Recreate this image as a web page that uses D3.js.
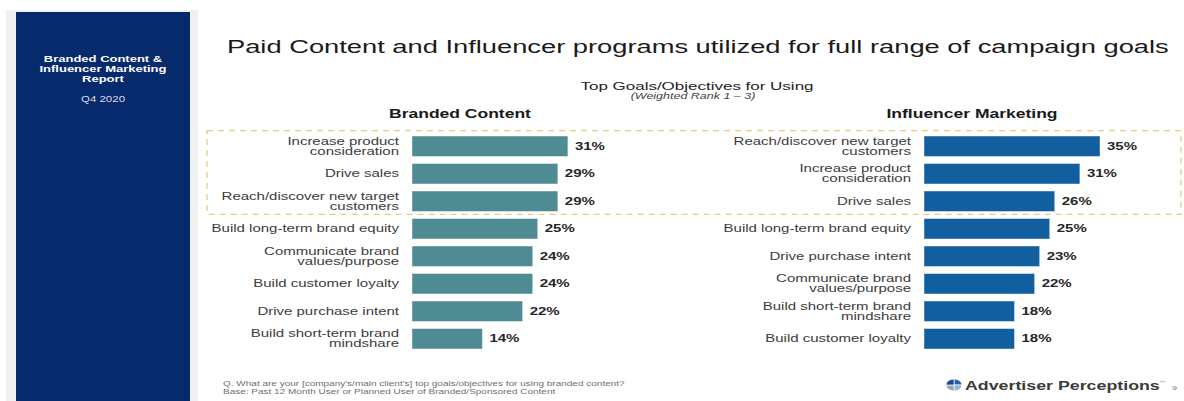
<!DOCTYPE html>
<html>
<head>
<meta charset="utf-8">
<script src="https://cdn.jsdelivr.net/npm/d3@7"></script>
<style>
  html, body { margin: 0; padding: 0; background: #ffffff; }
  svg { display: block; }
  text { font-family: "Liberation Sans", Arial, sans-serif; }
</style>
</head>
<body>
<svg id="chart" width="1184" height="401"></svg>
<script>
// Branded Content goals (weighted rank 1-3), share of respondents in %
const bcCategories = [
  "Increase product\nconsideration",
  "Drive sales",
  "Reach/discover new target\ncustomers",
  "Build long-term brand equity",
  "Communicate brand\nvalues/purpose",
  "Build customer loyalty",
  "Drive purchase intent",
  "Build short-term brand\nmindshare"
];
const bcValues = [31, 29, 29, 25, 24, 24, 22, 14];

// Influencer Marketing goals
const imCategories = [
  "Reach/discover new target\ncustomers",
  "Increase product\nconsideration",
  "Drive sales",
  "Build long-term brand equity",
  "Drive purchase intent",
  "Communicate brand\nvalues/purpose",
  "Build short-term brand\nmindshare",
  "Build customer loyalty"
];
const imValues = [35, 31, 26, 25, 23, 22, 18, 18];

const panelTitles = ["Branded Content", "Influencer Marketing"];

const svg = d3.select("#chart");
const SY = 0.68;   // slide text is rendered vertically condensed

function txt(parent, x, y, str, size, opts = {}) {
  const t = parent.append("text")
    .attr("transform", `translate(${x},${y}) scale(1,${opts.sy || SY})`)
    .attr("font-size", size)
    .attr("text-anchor", opts.anchor || "start")
    .attr("font-weight", opts.weight || "normal")
    .attr("font-style", opts.style || "normal")
    .attr("fill", opts.fill || "#222")
    .text(str);
  return t;
}

// ---- sidebar ----
svg.append("rect").attr("x", 6).attr("y", 10).attr("width", 192).attr("height", 391).attr("fill", "#f0f0ee");
svg.append("rect").attr("x", 16).attr("y", 12).attr("width", 174).attr("height", 389).attr("fill", "#062a6c");
const side = svg.append("g");
["Branded Content &", "Influencer Marketing", "Report"].forEach((s, i) => {
  txt(side, 103, 62 + i * 10, s, 13, { anchor: "middle", weight: "bold", fill: "#ffffff", sy: 0.74 });
});
txt(side, 103, 102, "Q4 2020", 11.5, { anchor: "middle", fill: "#d8dde8", sy: 0.74 });

// ---- headings ----
txt(svg, 227, 53, "Paid Content and Influencer programs utilized for full range of campaign goals", 27.3, { fill: "#1a1a1a" });
txt(svg, 697, 90, "Top Goals/Objectives for Using", 17, { anchor: "middle", fill: "#222" });
txt(svg, 693, 99, "(Weighted Rank 1 \u2013 3)", 12.5, { anchor: "middle", style: "italic", fill: "#444" });

// ---- highlight of the top three goals ----
svg.append("rect")
  .attr("x", 207).attr("y", 130.7).attr("width", 974).attr("height", 83.6)
  .attr("fill", "none").attr("stroke", "#e3d07c").attr("stroke-width", 1.3)
  .attr("stroke-dasharray", "6,5");

// ---- scales shared by both panels ----
const x = d3.scaleLinear().domain([0, 35]).range([0, 176]);

function panel(categories, values, x0, color, title, titleX) {
  const y = d3.scaleBand()
    .domain(categories)
    .range([132.5, 352.5])
    .paddingInner(0.255)
    .paddingOuter(0.1275);

  const g = svg.append("g");
  txt(g, titleX, 118, title, 17.5, { anchor: "middle", weight: "bold", fill: "#1a1a1a" });

  g.selectAll("rect.bar")
    .data(categories)
    .join("rect")
    .attr("class", "bar")
    .attr("x", x0)
    .attr("y", d => y(d))
    .attr("width", (d, i) => x(values[i]))
    .attr("height", y.bandwidth())
    .attr("fill", color)
    .attr("stroke", "rgba(255,255,255,0.45)")
    .attr("stroke-width", 1);

  categories.forEach((c, i) => {
    const cy = y(c) + y.bandwidth() / 2;
    const lines = c.split("\n");
    lines.forEach((ln, k) => {
      const off = (k - (lines.length - 1) / 2) * 10;
      txt(g, x0 - 13, cy + off + 3.7, ln, 15, { anchor: "end", fill: "#3c3c3c" });
    });
    txt(g, x0 + x(values[i]) + 7, cy + 3.7, values[i] + "%", 15, { weight: "bold", fill: "#262626" });
  });
}

panel(bcCategories, bcValues, 412, "#4e8b92", panelTitles[0], 460);
panel(imCategories, imValues, 924, "#115f9e", panelTitles[1], 972);

// ---- footnote ----
txt(svg, 223, 386, "Q. What are your [company's/main client's] top goals/objectives for using branded content?", 10, { fill: "#6f6f6f" });
txt(svg, 223, 394, "Base: Past 12 Month User or Planned User of Branded/Sponsored Content", 10, { fill: "#6f6f6f" });

// ---- brand mark ----
const logo = svg.append("g").attr("transform", `translate(954,385) scale(1,0.75)`);
const pie = d3.pie().sort(null)([1, 1, 1, 1]);
const arc = d3.arc().innerRadius(0).outerRadius(8);
const logoColors = ["#2a63ab", "#8fb3dc", "#9ea3a8", "#1c4b8c"];
logo.selectAll("path").data(pie).join("path")
  .attr("d", arc).attr("fill", (d, i) => logoColors[i])
  .attr("stroke", "#ffffff").attr("stroke-width", 0.8);
txt(svg, 965, 390, "Advertiser Perceptions", 17.8, { weight: "bold", fill: "#3a3a3a", sy: 0.72 });
txt(svg, 1159, 384, "\u2122", 6, { fill: "#888" });
txt(svg, 1172, 390, "9", 9, { fill: "#777" });
</script>
</body>
</html>
